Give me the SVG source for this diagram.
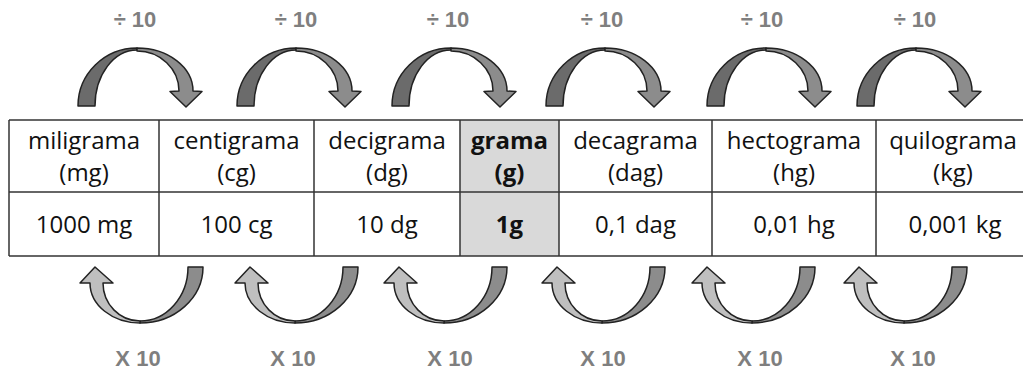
<svg xmlns="http://www.w3.org/2000/svg" xmlns:xlink="http://www.w3.org/1999/xlink" width="1023" height="371" viewBox="0 0 1023 371">
<style>
.cell{font-family:"Open Sans","Liberation Sans",sans-serif;font-size:24px;fill:#111;text-anchor:middle}
.b{font-weight:bold}
.lbl{font-family:"Liberation Sans",Arial,sans-serif;font-weight:bold;font-size:22px;fill:#7f7f7f;text-anchor:middle}
.grid{stroke:#333;stroke-width:1.5;fill:none}
.ar{stroke:#222;stroke-width:1.5;stroke-linejoin:round}
</style>
<defs>
<g id="arrowDown">
<path class="ar" fill="#6b6b6b" d="M0,106 A59,58 0 0 1 59,48 L59,50 A42,56 0 0 0 17,106 Z"/>
<path class="ar" fill="#8c8c8c" d="M59,48 A56,43 0 0 1 115,91 L124,91.5 L108,107 L92,91.5 L101,91 A42,40 0 0 0 59,51 Z"/>
</g>
<g id="arrowUp">
<path class="ar" fill="#8c8c8c" d="M0,267 L-15,267 A48,54 0 0 1 -63,321 L-63,323 A63,56 0 0 0 0,267 Z"/>
<path class="ar" fill="#bfbfbf" d="M-63,323 A50,40 0 0 1 -113,283 L-123,283 L-108,267 L-90,283 L-100,283 A37,38 0 0 0 -63,321 Z"/>
</g>
</defs>
<rect width="1023" height="371" fill="#fff"/>

<g id="table">
<rect x="460" y="120" width="99" height="136" fill="#d9d9d9"/>
<line class="grid" x1="9" y1="120" x2="1023" y2="120" stroke="#666"/>
<line class="grid" x1="9" y1="192" x2="1023" y2="192"/>
<line class="grid" x1="9" y1="256" x2="1023" y2="256"/>
<line class="grid" x1="9" y1="120" x2="9" y2="256"/>
<line class="grid" x1="159" y1="120" x2="159" y2="256"/>
<line class="grid" x1="314" y1="120" x2="314" y2="256"/>
<line class="grid" x1="460" y1="120" x2="460" y2="256"/>
<line class="grid" x1="559" y1="120" x2="559" y2="256"/>
<line class="grid" x1="712" y1="120" x2="712" y2="256"/>
<line class="grid" x1="876" y1="120" x2="876" y2="256"/>
</g>

<g id="mg">
<text class="cell" x="84" y="149">miligrama</text>
<text class="cell" x="84" y="181">(mg)</text>
<text class="cell" x="84" y="233">1000 mg</text>
</g>
<g id="cg">
<text class="cell" x="236.5" y="149">centigrama</text>
<text class="cell" x="236.5" y="181">(cg)</text>
<text class="cell" x="236.5" y="233">100 cg</text>
</g>
<g id="dg">
<text class="cell" x="387" y="149">decigrama</text>
<text class="cell" x="387" y="181">(dg)</text>
<text class="cell" x="387" y="233">10 dg</text>
</g>
<g id="g">
<text class="cell b" x="509.5" y="149">grama</text>
<text class="cell b" x="509.5" y="181">(g)</text>
<text class="cell b" x="509.5" y="233">1g</text>
</g>
<g id="dag">
<text class="cell" x="635.5" y="149">decagrama</text>
<text class="cell" x="635.5" y="181">(dag)</text>
<text class="cell" x="635.5" y="233">0,1 dag</text>
</g>
<g id="hg">
<text class="cell" x="794" y="149">hectograma</text>
<text class="cell" x="794" y="181">(hg)</text>
<text class="cell" x="794" y="233">0,01 hg</text>
</g>
<g id="kg">
<text class="cell" x="953" y="149">quilograma</text>
<text class="cell" x="953" y="181">(kg)</text>
<text class="cell" x="955" y="233">0,001 kg</text>
</g>

<g id="connectors">
<use xlink:href="#arrowDown" x="78"/>
<use xlink:href="#arrowDown" x="237"/>
<use xlink:href="#arrowDown" x="392"/>
<use xlink:href="#arrowDown" x="546"/>
<use xlink:href="#arrowDown" x="707"/>
<use xlink:href="#arrowDown" x="857"/>
<use xlink:href="#arrowUp" x="203"/>
<use xlink:href="#arrowUp" x="358"/>
<use xlink:href="#arrowUp" x="507"/>
<use xlink:href="#arrowUp" x="665"/>
<use xlink:href="#arrowUp" x="815"/>
<use xlink:href="#arrowUp" x="967"/>
</g>

<g id="labels">
<text class="lbl" x="135" y="27">÷ 10</text>
<text class="lbl" x="296" y="27">÷ 10</text>
<text class="lbl" x="448" y="27">÷ 10</text>
<text class="lbl" x="602" y="27">÷ 10</text>
<text class="lbl" x="762" y="27">÷ 10</text>
<text class="lbl" x="915" y="27">÷ 10</text>
<text class="lbl" x="138" y="366">X 10</text>
<text class="lbl" x="293" y="366">X 10</text>
<text class="lbl" x="450" y="366">X 10</text>
<text class="lbl" x="603" y="366">X 10</text>
<text class="lbl" x="760" y="366">X 10</text>
<text class="lbl" x="913" y="366">X 10</text>
</g>
</svg>
